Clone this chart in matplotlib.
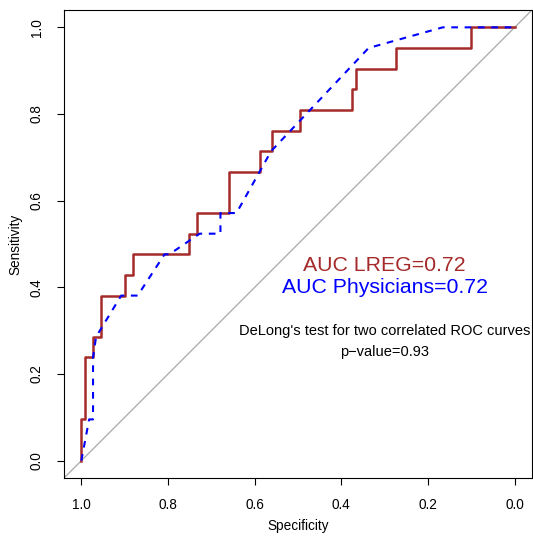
import numpy as np
import matplotlib
matplotlib.use("Agg")
import matplotlib.pyplot as plt

plt.rcParams['font.family'] = ['Liberation Sans', 'DejaVu Sans']

# LREG model ROC (step curve), sensitivity in 21ths
lreg_spec = [1.0, 1.0, 0.991, 0.973, 0.954, 0.899, 0.881, 0.752, 0.734, 0.660,
             0.587, 0.559, 0.495, 0.376, 0.366, 0.275, 0.0997, 0.0]
lreg_sens = np.array([0, 2, 5, 6, 8, 9, 10, 11, 12, 14, 15, 16, 17, 18, 19, 20, 21, 21]) / 21

# physicians ROC (ties give diagonal pieces)
phys_spec = [1.0, 0.982, 0.973, 0.973, 0.966, 0.908, 0.870, 0.808, 0.797, 0.727,
             0.679, 0.679, 0.642, 0.562, 0.337, 0.166, 0.0]
phys_sens = np.array([0, 2, 2, 5, 6, 8, 8, 10, 10, 11, 11, 12, 12, 15, 20, 21, 21]) / 21

auc_lreg = 0.72
auc_phys = 0.72
p_value = 0.93

brown = '#A52A2A'

fig = plt.figure(figsize=(5.33, 5.38), dpi=100)
ax = fig.add_axes([64/533, 60/538, 468/533, 468/538])

ax.axline((1, 0), (0, 1), color='#A8A8A8', lw=0.9, zorder=1)
ax.step(lreg_spec, lreg_sens, where='post', color=brown, lw=1.8, zorder=2)
ax.plot(phys_spec, phys_sens, color='blue', lw=1.5, ls=(0, (3.2, 3.2)), zorder=3)

ax.text(0.3, 0.45, 'AUC LREG=%.2f' % auc_lreg, color=brown, fontsize=15.3,
        ha='center', va='center')
ax.text(0.3, 0.40, 'AUC Physicians=%.2f' % auc_phys, color='blue', fontsize=15.3,
        ha='center', va='center')
ax.text(0.3, 0.30, "DeLong's test for two correlated ROC curves", fontsize=10.5,
        ha='center', va='center')
ax.text(0.3, 0.25, 'p\u2212value=%.2f' % p_value, fontsize=10.5,
        ha='center', va='center')

ax.set_xlim(1.04, -0.04)
ax.set_ylim(-0.04, 1.04)
ticks = [0.0, 0.2, 0.4, 0.6, 0.8, 1.0]
ax.set_xticks(ticks)
ax.set_yticks(ticks)
ax.set_xticklabels(['%.1f' % t for t in ticks])
ax.set_yticklabels(['%.1f' % t for t in ticks], rotation=90, va='center')
ax.tick_params(direction='out', length=5, width=0.8, labelsize=9.8, pad=9.5)
ax.set_xlabel('Specificity', fontsize=9.8, labelpad=5)
ax.set_ylabel('Sensitivity', fontsize=9.8, labelpad=5)
for s in ax.spines.values():
    s.set_linewidth(0.8)

fig.savefig('out.png', dpi=100)
